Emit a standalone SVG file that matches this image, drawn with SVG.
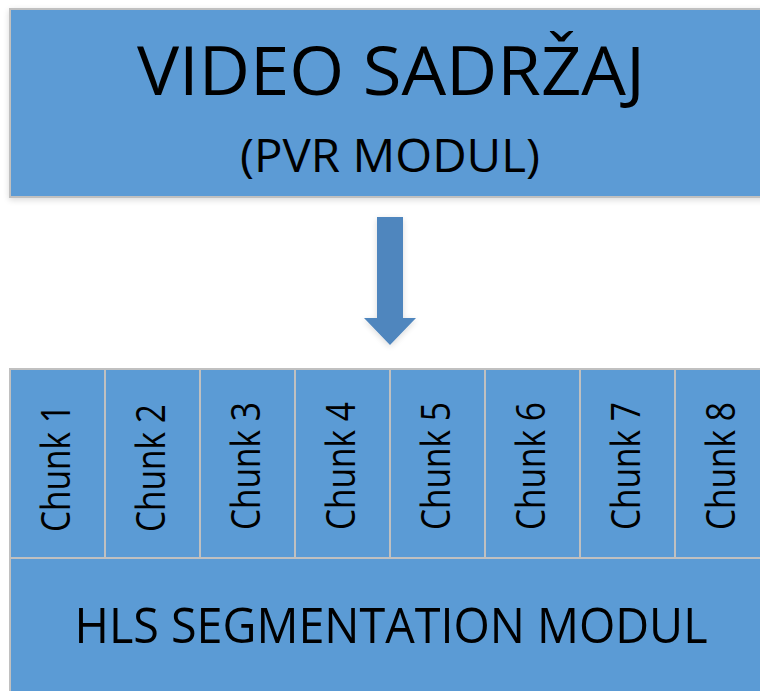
<svg xmlns="http://www.w3.org/2000/svg" width="760" height="691" viewBox="0 0 760 691">
<defs>
<style>
.box{fill:#5B9BD5;stroke:#C0C0C0;stroke-width:2}
.t{font-family:"Open Sans","Liberation Sans",sans-serif;fill:#000;text-anchor:middle}
.ch{font-size:40px}
</style>
<filter id="sh" x="-20%" y="-20%" width="140%" height="140%">
<feGaussianBlur in="SourceAlpha" stdDeviation="3"/>
<feOffset dy="2"/>
<feComponentTransfer><feFuncA type="linear" slope="0.15"/></feComponentTransfer>
<feMerge><feMergeNode/><feMergeNode in="SourceGraphic"/></feMerge>
</filter>
</defs>
<rect width="760" height="691" fill="#fff"/>
<g id="video">
<rect class="box" x="10" y="9" width="760" height="188" filter="url(#sh)"/>
<text class="t" x="391" y="95" font-size="68" textLength="508" lengthAdjust="spacingAndGlyphs">VIDEO SADRŽAJ</text>
<text class="t" x="390" y="172" font-size="45" textLength="300" lengthAdjust="spacingAndGlyphs">(PVR MODUL)</text>
</g>
<g id="connectors">
<polygon points="377,217 403,217 403,318 416,318 390,345 364,318 377,318" fill="#4F86BE" filter="url(#sh)"/>
</g>
<g id="hls">
<rect class="box" x="10" y="558" width="760" height="140"/>
<text class="t" x="391" y="643" font-size="50" textLength="633" lengthAdjust="spacingAndGlyphs">HLS SEGMENTATION MODUL</text>
</g>
<g id="chunk1"><rect class="box" x="10" y="369" width="95" height="189"/><text class="t ch" transform="translate(70,468) rotate(-90)" textLength="128" lengthAdjust="spacingAndGlyphs">Chunk 1</text></g>
<g id="chunk2"><rect class="box" x="105" y="369" width="95" height="189"/><text class="t ch" transform="translate(165,468) rotate(-90)" textLength="128" lengthAdjust="spacingAndGlyphs">Chunk 2</text></g>
<g id="chunk3"><rect class="box" x="200" y="369" width="95" height="189"/><text class="t ch" transform="translate(260,466) rotate(-90)" textLength="128" lengthAdjust="spacingAndGlyphs">Chunk 3</text></g>
<g id="chunk4"><rect class="box" x="295" y="369" width="95" height="189"/><text class="t ch" transform="translate(355,466) rotate(-90)" textLength="128" lengthAdjust="spacingAndGlyphs">Chunk 4</text></g>
<g id="chunk5"><rect class="box" x="390" y="369" width="95" height="189"/><text class="t ch" transform="translate(450,466) rotate(-90)" textLength="128" lengthAdjust="spacingAndGlyphs">Chunk 5</text></g>
<g id="chunk6"><rect class="box" x="485" y="369" width="95" height="189"/><text class="t ch" transform="translate(545,466) rotate(-90)" textLength="128" lengthAdjust="spacingAndGlyphs">Chunk 6</text></g>
<g id="chunk7"><rect class="box" x="580" y="369" width="95" height="189"/><text class="t ch" transform="translate(640,466) rotate(-90)" textLength="128" lengthAdjust="spacingAndGlyphs">Chunk 7</text></g>
<g id="chunk8"><rect class="box" x="675" y="369" width="95" height="189"/><text class="t ch" transform="translate(735,466) rotate(-90)" textLength="128" lengthAdjust="spacingAndGlyphs">Chunk 8</text></g>
</svg>
